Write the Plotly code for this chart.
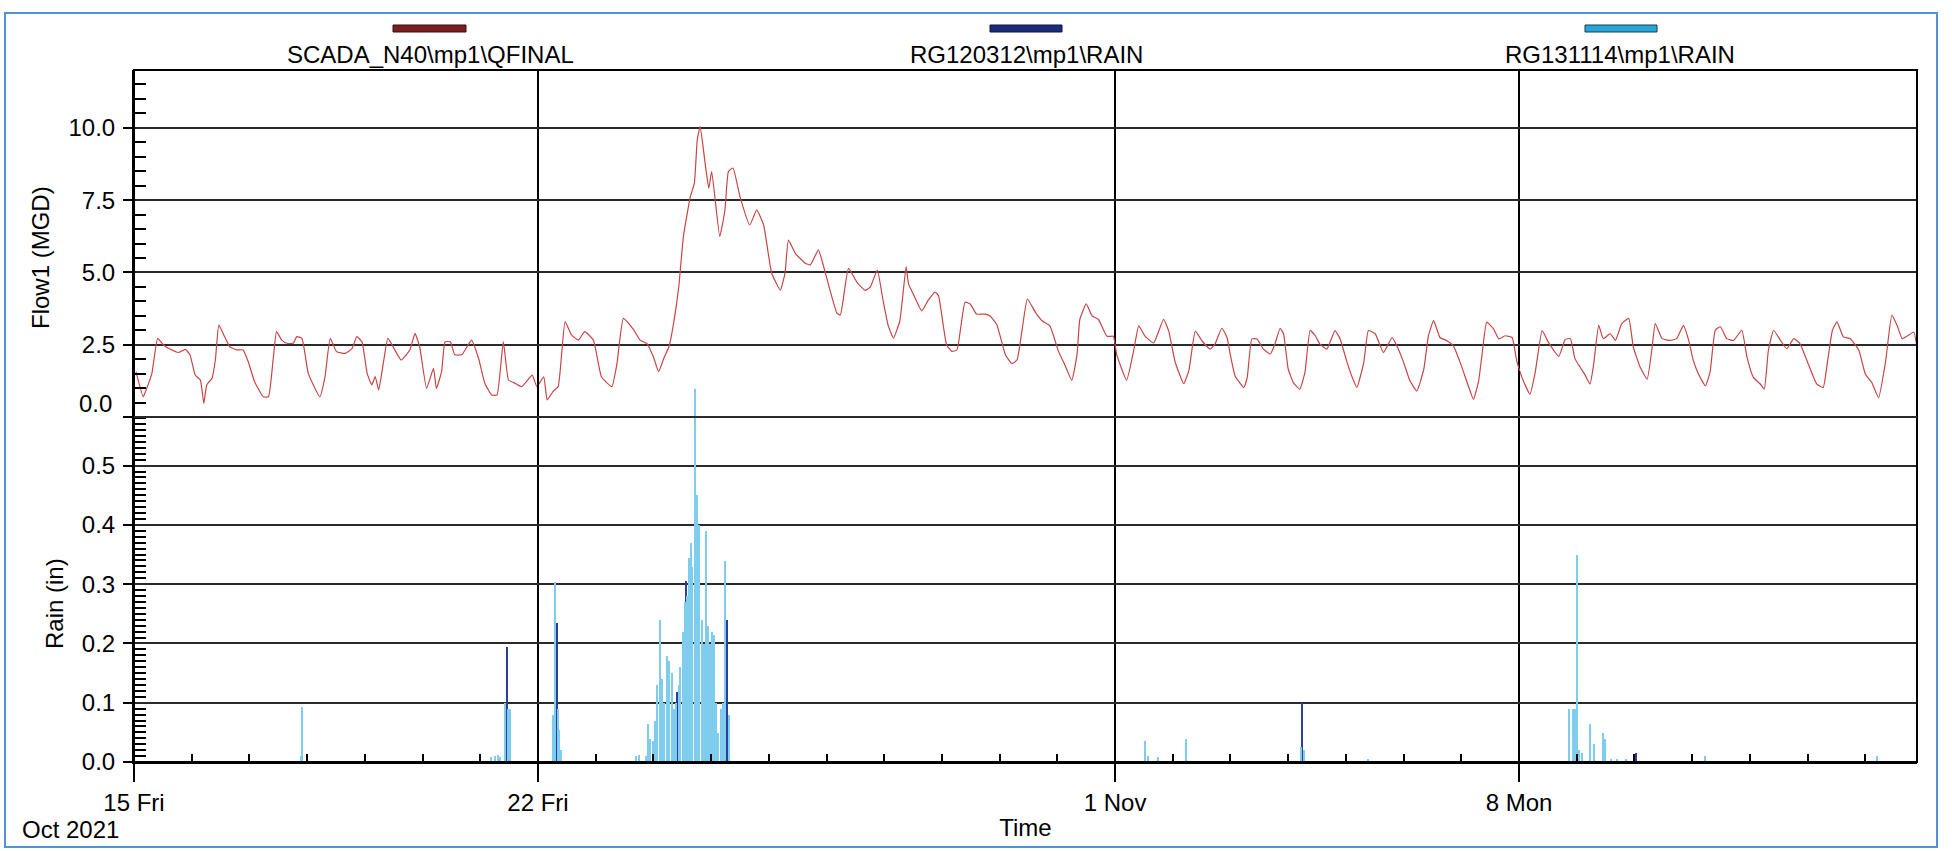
import pandas as pd
import plotly.graph_objects as go

# ---------------- data ----------------
START = "2021-10-15"
END = "2021-11-14 21:30"

# Flow: time as days after 15 Oct 2021 00:00, value in MGD
flow_day = [
    0.035, 0.16, 0.22, 0.31, 0.41, 0.51, 0.63, 0.77, 0.89, 0.97, 1.06, 1.15, 1.21, 1.26, 1.35, 1.41,
    1.47, 1.57, 1.66, 1.78, 1.89, 1.98, 2.09, 2.24, 2.33, 2.41, 2.47, 2.56, 2.65, 2.76, 2.82, 2.91,
    3.02, 3.22, 3.31, 3.40, 3.51, 3.66, 3.78, 3.86, 3.95, 4.04, 4.12, 4.18, 4.24, 4.32, 4.40, 4.52,
    4.63, 4.78, 4.87, 4.95, 5.07, 5.19, 5.24, 5.33, 5.39, 5.48, 5.56, 5.68, 5.77, 5.85, 5.97, 6.08,
    6.20, 6.29, 6.40, 6.49, 6.61, 6.72, 6.90, 6.98, 7.10, 7.16, 7.26, 7.35, 7.47, 7.58, 7.70, 7.81,
    7.96, 8.10, 8.28, 8.37, 8.48, 8.66, 8.77, 8.89, 9.00, 9.09, 9.18, 9.27, 9.35, 9.44, 9.52, 9.64,
    9.71, 9.76, 9.81, 9.90, 9.96, 10.01, 10.15, 10.24, 10.30, 10.38, 10.50, 10.67, 10.79, 10.91,
    11.05, 11.20, 11.28, 11.34, 11.46, 11.63, 11.72, 11.86, 11.95, 12.18, 12.24, 12.38, 12.53,
    12.67, 12.76, 12.88, 12.98, 13.07, 13.16, 13.27, 13.38, 13.42, 13.53, 13.65, 13.76, 13.88,
    13.94, 14.08, 14.17, 14.26, 14.40, 14.49, 14.60, 14.75, 14.83, 14.95, 15.10, 15.21, 15.30,
    15.39, 15.48, 15.62, 15.74, 15.87, 16.02, 16.13, 16.25, 16.34, 16.39, 16.50, 16.60, 16.71,
    16.86, 16.97, 17.03, 17.20, 17.32, 17.41, 17.52, 17.67, 17.84, 17.93, 18.04, 18.19, 18.28,
    18.39, 18.51, 18.65, 18.73, 18.85, 18.94, 19.00, 19.08, 19.23, 19.29, 19.37, 19.46, 19.57,
    19.69, 19.77, 19.86, 19.92, 20.00, 20.09, 20.20, 20.29, 20.38, 20.47, 20.55, 20.67, 20.81,
    20.90, 21.02, 21.11, 21.19, 21.31, 21.39, 21.51, 21.65, 21.80, 21.88, 22.00, 22.11, 22.23,
    22.35, 22.43, 22.52, 22.63, 22.75, 22.86, 22.98, 23.12, 23.21, 23.30, 23.36, 23.44, 23.56,
    23.65, 23.76, 23.88, 23.96, 24.05, 24.19, 24.28, 24.40, 24.51, 24.69, 24.80, 24.89, 24.97,
    25.06, 25.15, 25.23, 25.29, 25.38, 25.46, 25.58, 25.67, 25.78, 25.90, 25.98, 26.10, 26.22,
    26.30, 26.36, 26.48, 26.62, 26.73, 26.85, 26.94, 27.02, 27.11, 27.23, 27.31, 27.40, 27.49,
    27.60, 27.72, 27.86, 27.95, 28.06, 28.18, 28.25, 28.32, 28.41, 28.53, 28.64, 28.76, 28.87,
    29.01, 29.16, 29.27, 29.34, 29.43, 29.51, 29.62, 29.74, 29.89, 30.00, 30.11, 30.23, 30.35,
    30.46, 30.55, 30.64, 30.75, 30.84, 30.90,
]
flow_mgd = [
    1.57, 0.70, 0.99, 1.51, 2.72, 2.49, 2.34, 2.23, 2.34, 2.15, 1.45, 1.28, 0.47, 1.11, 1.33, 1.97,
    3.18, 2.78, 2.43, 2.32, 2.32, 1.91, 1.22, 0.70, 0.70, 1.97, 2.95, 2.66, 2.55, 2.55, 2.78, 2.72,
    1.51, 0.70, 1.40, 2.72, 2.26, 2.20, 2.37, 2.78, 2.60, 1.51, 1.11, 1.40, 0.93, 1.86, 2.72, 2.32,
    1.97, 2.32, 2.89, 2.43, 0.99, 1.68, 0.99, 1.57, 2.60, 2.60, 2.15, 2.15, 2.43, 2.66, 2.03, 1.16,
    0.76, 0.76, 2.61, 1.28, 1.16, 1.05, 1.45, 1.05, 1.39, 0.59, 0.88, 1.05, 3.30, 2.84, 2.66, 2.95,
    2.66, 1.39, 1.05, 1.86, 3.41, 3.01, 2.66, 2.54, 2.08, 1.57, 2.03, 2.43, 3.24, 4.51, 6.24, 7.62,
    8.08, 9.58, 10.05, 8.72, 7.91, 8.49, 6.24, 7.16, 8.49, 8.61, 7.62, 6.64, 7.16, 6.64,
    4.97, 4.39, 4.97, 6.12, 5.66, 5.32, 5.26, 5.78, 5.20, 3.59, 3.53, 5.14, 4.65,
    4.38, 4.50, 5.08, 4.03, 3.15, 2.73, 3.32, 5.20, 4.61, 4.14, 3.67, 4.03, 4.32,
    4.20, 2.50, 2.27, 2.32, 3.97, 3.91, 3.56, 3.56, 3.50, 3.20, 2.15, 1.85, 1.97,
    3.03, 4.08, 3.62, 3.32, 3.15, 2.27, 1.80, 1.27, 2.15, 3.38, 3.91, 3.50, 3.38,
    2.79, 2.79, 2.15, 1.27, 2.27, 3.15, 2.79, 2.56, 3.38, 2.97, 1.91, 1.15, 1.62,
    2.97, 2.62, 2.35, 2.52, 3.07, 2.75, 2.12, 1.42, 1.02, 1.37, 2.70, 2.70, 2.35,
    2.18, 2.52, 3.07, 2.87, 1.66, 1.19, 0.96, 1.54, 2.99, 2.81, 2.52, 2.35, 2.99,
    2.70, 1.89, 1.37, 1.02, 1.89, 2.99, 2.87, 2.23, 2.75, 2.47, 1.89, 1.25, 0.90,
    1.66, 2.81, 3.33, 2.75, 2.64, 2.47, 1.89, 1.08, 0.61, 1.25, 2.18, 3.28, 3.04,
    2.70, 2.81, 2.75, 1.94, 1.37, 0.79, 1.54, 2.99, 2.58, 2.10, 2.68, 2.71, 2.01,
    1.72, 1.43, 1.14, 1.78, 3.17, 2.71, 2.88, 2.65, 3.23, 3.41, 2.42, 1.72, 1.31,
    2.30, 3.23, 2.71, 2.65, 2.71, 3.17, 2.65, 1.95, 1.49, 1.08, 1.55, 3.00, 3.12,
    2.71, 2.65, 3.00, 2.07, 1.37, 1.14, 0.97, 2.30, 3.00, 2.65, 2.36, 2.71, 2.53,
    1.84, 1.14, 1.02, 1.84, 3.00, 3.29, 2.77, 2.71, 2.30, 1.49, 1.20, 0.67, 1.90,
    3.52, 3.17, 2.71, 2.83, 2.94, 2.36,
]

# Rain gauge RG120312 (dark blue), days after 15 Oct, inches
rg1_day = [6.46, 7.33, 9.42, 9.57, 10.28, 20.25, 26.03]
rg1_in = [0.194, 0.235, 0.118, 0.306, 0.24, 0.10, 0.015]

# Rain gauge RG131114 (light blue), days after 15 Oct, inches
rg2_day = [
    2.90, 2.92, 6.19, 6.25, 6.31, 6.35, 6.43, 6.49, 6.52, 7.27, 7.30, 7.35, 7.37, 7.41, 8.70, 8.75,
    8.87, 8.91, 8.95, 8.99, 9.03, 9.06, 9.11, 9.15, 9.19, 9.23, 9.28, 9.32, 9.36, 9.40, 9.44, 9.47,
    9.51, 9.55, 9.59, 9.62, 9.65, 9.68, 9.72, 9.76, 9.80, 9.84, 9.88, 9.91, 9.95, 9.99, 10.02,
    10.05, 10.09, 10.13, 10.17, 10.21, 10.24, 10.31,
    17.53, 17.58, 17.75, 18.23, 20.22, 20.28, 21.38, 24.87, 24.93, 24.97, 25.01, 25.05, 25.09,
    25.24, 25.30, 25.45, 25.49, 25.60, 25.70, 25.85, 27.23, 30.21,
]
rg2_in = [
    0.01, 0.093, 0.008, 0.01, 0.012, 0.008, 0.10, 0.09, 0.09, 0.08, 0.304, 0.09, 0.055, 0.02, 0.01, 0.012,
    0.01, 0.065, 0.04, 0.035, 0.07, 0.13, 0.24, 0.14, 0.10, 0.18, 0.17, 0.15, 0.09, 0.10, 0.13, 0.16,
    0.22, 0.27, 0.28, 0.345, 0.37, 0.33, 0.63, 0.45, 0.40, 0.24, 0.20, 0.39, 0.23, 0.20, 0.22,
    0.215, 0.10, 0.05, 0.09, 0.10, 0.34, 0.08,
    0.035, 0.01, 0.008, 0.04, 0.025, 0.02, 0.005, 0.089, 0.089, 0.09, 0.349, 0.02, 0.015,
    0.065, 0.03, 0.05, 0.04, 0.005, 0.005, 0.005, 0.01, 0.01,
]

x_tickvals = ["2021-10-15", "2021-10-22", "2021-11-01", "2021-11-08"]
x_ticktext = ["15 Fri", "22 Fri", "1 Nov", "8 Mon"]
flow_ticks = [0, 2.5, 5, 7.5, 10]
flow_ticktext = ["", "2.5", "5.0", "7.5", "10.0"]
rain_ticks = [0, 0.1, 0.2, 0.3, 0.4, 0.5]
rain_ticktext = ["0.0", "0.1", "0.2", "0.3", "0.4", "0.5"]

series_names = ["SCADA_N40\\mp1\\QFINAL", "RG120312\\mp1\\RAIN", "RG131114\\mp1\\RAIN"]

# ---------------- helpers ----------------
base = pd.Timestamp(START)


def to_time(days):
    return [base + pd.Timedelta(days=d) for d in days]


FONT = "Liberation Sans, Arial, sans-serif"
FS = 24
W, H = 1952, 851
ML, MR, MT, MB = 134, 35, 70, 89
PW, PH = W - ML - MR, H - MT - MB
SPLIT = (762 - 417) / PH  # paper y of the flow/rain divider
RAIN_TOP = 0.582          # rain value at the divider
RAIN_AX_TOP = 0.66        # rain pane extends (transparently) above the divider
RAIN_DOMAIN_TOP = SPLIT * RAIN_AX_TOP / RAIN_TOP


def px_x(x):
    return (x - ML) / PW


def px_y(y):
    return (H - MB - y) / PH


GRID = "#2a2a2a"
rain_minor = [i / 100 for i in range(1, 59) if i % 10]
flow_minor = [i / 2 for i in range(1, 24) if i % 5]
day_ticks = pd.date_range(START, "2021-11-14", freq="D")
day_minor = [d for d in day_ticks if d.strftime("%Y-%m-%d") not in x_tickvals]

fig = go.Figure()
fig.add_trace(go.Bar(
    x=to_time(rg1_day), y=rg1_in, name=series_names[1], width=2.0e6,
    marker=dict(color="#2b3f9a", line=dict(width=0)), xaxis="x", yaxis="y2", showlegend=False,
))
fig.add_trace(go.Bar(
    x=to_time(rg2_day), y=rg2_in, name=series_names[2], width=2.0e6,
    marker=dict(color="#7fcdee", line=dict(width=0)), xaxis="x", yaxis="y2", showlegend=False,
))
fig.add_trace(go.Scatter(
    x=to_time(flow_day), y=flow_mgd, mode="lines", name=series_names[0],
    line=dict(color="#c94545", width=1.2, shape="spline", smoothing=0.4),
    xaxis="x", yaxis="y", showlegend=False,
))

fig.update_layout(
    width=W, height=H,
    margin=dict(l=ML, r=MR, t=MT, b=MB),
    paper_bgcolor="white", plot_bgcolor="rgba(0,0,0,0)",
    font=dict(family=FONT, size=FS, color="black"),
    barmode="overlay", bargap=0,
    xaxis=dict(
        domain=[0, 1], anchor="y2", type="date", range=[START, END],
        tickmode="array", tickvals=x_tickvals, ticktext=x_ticktext,
        ticks="outside", ticklen=18, tickwidth=2, tickcolor="black",
        tickfont=dict(size=FS),
        showgrid=True, gridcolor="black", gridwidth=2,
        showline=True, linecolor="black", linewidth=2, zeroline=False,
        minor=dict(tickmode="array", tickvals=day_minor, ticks="inside",
                   ticklen=8, tickwidth=2, tickcolor="black", showgrid=False),
        title=dict(text="Time", standoff=4, font=dict(size=FS)),
    ),
    yaxis=dict(
        domain=[SPLIT, 1], anchor="x", range=[0, 12],
        tickmode="array", tickvals=flow_ticks, ticktext=flow_ticktext,
        ticks="outside", ticklen=9, tickwidth=2, tickcolor="black",
        ticklabelstandoff=3,
        showgrid=True, gridcolor=GRID, gridwidth=2,
        showline=True, linecolor="black", linewidth=2, zeroline=False,
        minor=dict(tickmode="array", tickvals=flow_minor, ticks="inside",
                   ticklen=12, tickwidth=2, tickcolor="black", showgrid=False),
    ),
    yaxis2=dict(
        domain=[0, RAIN_DOMAIN_TOP], anchor="x", range=[0, RAIN_AX_TOP],
        tickmode="array", tickvals=rain_ticks, ticktext=rain_ticktext,
        ticks="outside", ticklen=9, tickwidth=2, tickcolor="black",
        ticklabelstandoff=3,
        showgrid=True, gridcolor=GRID, gridwidth=2,
        showline=True, linecolor="black", linewidth=2, zeroline=False,
        minor=dict(tickmode="array", tickvals=rain_minor, ticks="inside",
                   ticklen=12, tickwidth=2, tickcolor="black", showgrid=False),
    ),
)

shapes = [
    # plot frame
    dict(type="rect", xref="paper", yref="paper", x0=0, x1=1, y0=0, y1=1,
         line=dict(color="black", width=2), layer="above"),
    # divider between flow and rain panes
    dict(type="line", xref="paper", yref="paper", x0=0, x1=1, y0=SPLIT, y1=SPLIT,
         line=dict(color=GRID, width=2), layer="above"),
    # window frame
    dict(type="rect", xref="paper", yref="paper",
         x0=px_x(5), x1=px_x(1937), y0=px_y(847), y1=px_y(13),
         line=dict(color="#4f95d6", width=2), layer="below"),
]

legend_items = [
    (series_names[0], 393, 466, 430, "#7a1f1f", "#3a0d0d"),
    (series_names[1], 990, 1062, 1026, "#1c2b7a", "#0d1540"),
    (series_names[2], 1585, 1657, 1620, "#2aa6d6", "#153d55"),
]
annotations = []
for name, bx0, bx1, cx, fill, edge in legend_items:
    shapes.append(dict(type="rect", xref="paper", yref="paper",
                       x0=px_x(bx0), x1=px_x(bx1), y0=px_y(32), y1=px_y(25),
                       fillcolor=fill, line=dict(color=edge, width=1)))
    annotations.append(dict(text=name, xref="paper", yref="paper", x=px_x(cx), y=px_y(55),
                            xanchor="center", yanchor="middle", showarrow=False,
                            font=dict(size=FS, family=FONT)))

annotations += [
    dict(text="0.0", xref="paper", yref="paper", x=px_x(114), y=px_y(403),
         xanchor="right", yanchor="middle", showarrow=False, font=dict(size=FS)),
    dict(text="Flow1 (MGD)", xref="paper", yref="paper", x=px_x(40), y=px_y(258),
         xanchor="center", yanchor="middle", textangle=-90, showarrow=False,
         font=dict(size=FS)),
    dict(text="Rain (in)", xref="paper", yref="paper", x=px_x(54), y=px_y(604),
         xanchor="center", yanchor="middle", textangle=-90, showarrow=False,
         font=dict(size=FS)),
    dict(text="Oct 2021", xref="paper", yref="paper", x=px_x(20), y=px_y(829),
         xanchor="left", yanchor="middle", showarrow=False, font=dict(size=FS)),
]

fig.update_layout(shapes=shapes, annotations=annotations)
fig.write_html(
    "out.html",
    config={"displayModeBar": False},
    post_script="document.body.style.margin='0';document.body.style.overflow='hidden';",
)
